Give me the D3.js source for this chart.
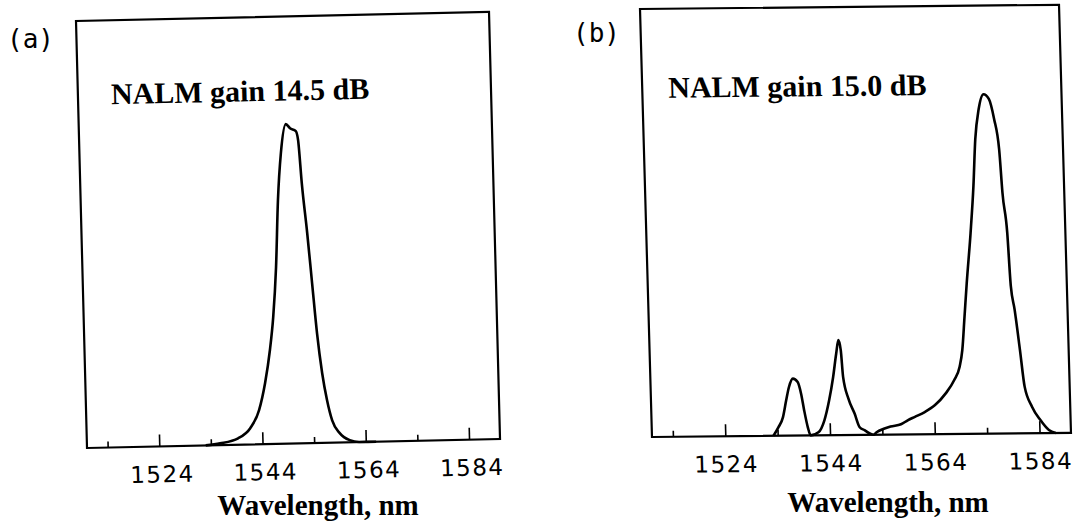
<!DOCTYPE html>
<html>
<head>
<meta charset="utf-8">
<script src="https://cdn.jsdelivr.net/npm/d3@7"></script>
<style>
  body { margin: 0; background: #fff; }
  svg { display: block; }
</style>
</head>
<body>
<svg></svg>
<script>
const width = 1074;
const height = 521;

// wavelength (nm) and relative power
const waveA = [1533, 1535.8, 1539.3, 1541.7, 1543.5, 1544.8, 1545.9, 1546.7, 1547.5, 1548.2, 1549.0,
  1550.1, 1550.9, 1552.0, 1552.4, 1552.9, 1553.7, 1554.4, 1555.1, 1555.9, 1556.7, 1557.6,
  1559.0, 1560.9, 1562.8, 1566];
const powerA = [0, 0.004, 0.015, 0.038, 0.080, 0.143, 0.220, 0.297, 0.414, 0.570, 0.680,
  0.748, 0.738, 0.731, 0.710, 0.609, 0.492, 0.374, 0.257, 0.163, 0.100, 0.052,
  0.022, 0.005, 0, 0];

const waveB = [1533.2, 1534.2, 1535.1, 1535.8, 1536.4, 1537.2, 1538.1, 1538.7, 1539.2, 1539.8,
  1540.3, 1541.8, 1543.0, 1544.0, 1544.9, 1545.6, 1546.1, 1546.5, 1546.8, 1547.7, 1548.8,
  1549.7, 1550.6, 1551.6, 1552.3, 1552.9, 1554.3, 1555.6, 1557.6, 1558.9, 1560.3, 1562.2,
  1564.2, 1566.3, 1568.0, 1569.1, 1569.7, 1570.3, 1570.9, 1571.9, 1572.7, 1573.3, 1574.1,
  1575.1, 1576.1, 1577.0, 1577.8, 1578.2, 1578.9, 1579.3, 1579.9, 1580.7, 1581.4, 1582.7,
  1584.2, 1585.8, 1587.1];
const powerB = [0, 0.020, 0.043, 0.082, 0.113, 0.133, 0.125, 0.097, 0.058, 0.019,
  0, 0.007, 0.035, 0.081, 0.136, 0.190, 0.222, 0.198, 0.136, 0.085, 0.050,
  0.018, 0.011, 0.003, 0, 0.006, 0.014, 0.019, 0.024, 0.033, 0.041, 0.052,
  0.068, 0.095, 0.126, 0.157, 0.196, 0.274, 0.352, 0.469, 0.579, 0.688, 0.758,
  0.793, 0.782, 0.735, 0.664, 0.563, 0.469, 0.344, 0.289, 0.195, 0.109, 0.062,
  0.031, 0.007, 0];

const majorTicks = [1524, 1544, 1564, 1584];
const minorTicks = [1514, 1534, 1554, 1574];
const panelLabels = ["(a)", "(b)"];
const titles = ["NALM gain 14.5 dB", "NALM gain 15.0 dB"];
const xLabel = "Wavelength, nm";

const svg = d3.select("svg")
  .attr("width", width)
  .attr("height", height);

svg.append("rect").attr("width", width).attr("height", height).attr("fill", "#fff");

// the scan is slightly skewed, so each panel sits in a sheared frame
const panels = [
  { x: 76, y: 21, w: 413, h: 427, kx: 0.0258, ky: -0.0218, wave: waveA, power: powerA,
    labelX: 7, labelY: 48, titleX: 33, titleY: 84, xlabX: 318, xlabY: 515, tickDx: 2 },
  { x: 640, y: 9, w: 419, h: 428, kx: 0.028, ky: -0.010, wave: waveB, power: powerB,
    labelX: 573, labelY: 42, titleX: 26, titleY: 89, xlabX: 888, xlabY: 512, tickDx: 0 }
];

panels.forEach((p, i) => {
  const g = svg.append("g")
    .attr("transform", `matrix(1,${p.ky},${p.kx},1,${p.x},${p.y})`);

  const x = d3.scaleLinear().domain([1510, 1590]).range([0, p.w]);
  const y = d3.scaleLinear().domain([0, 1]).range([p.h, 0]);

  g.append("rect")
    .attr("width", p.w)
    .attr("height", p.h)
    .attr("fill", "none")
    .attr("stroke", "#000")
    .attr("stroke-width", 2.2);

  // minor ticks, no labels
  const minor = g.append("g")
    .attr("transform", `translate(0,${p.h})`)
    .call(d3.axisBottom(x).tickValues(minorTicks).tickSize(-6).tickFormat(""));
  minor.select(".domain").remove();
  minor.selectAll("line").attr("stroke-width", 1.6);

  // major ticks with labels
  const major = g.append("g")
    .attr("transform", `translate(0,${p.h})`)
    .call(d3.axisBottom(x).tickValues(majorTicks).tickSize(-12).tickFormat(d3.format("d")));
  major.select(".domain").remove();
  major.selectAll("line").attr("stroke-width", 1.6);
  major.attr("font-family", "'DejaVu Sans', sans-serif").attr("font-size", 23);
  major.selectAll("text")
    .attr("y", 36)
    .attr("dy", 0)
    .attr("dx", p.tickDx)
    .attr("fill", "#000")
    .style("letter-spacing", "1.5px");

  const line = d3.line()
    .x((d, j) => x(p.wave[j]))
    .y(d => y(d))
    .curve(d3.curveMonotoneX);

  g.append("path")
    .datum(p.power)
    .attr("fill", "none")
    .attr("stroke", "#000")
    .attr("stroke-width", 2.6)
    .attr("stroke-linejoin", "round")
    .attr("d", line);

  g.append("text")
    .attr("x", p.titleX)
    .attr("y", p.titleY)
    .attr("font-family", "'Liberation Serif', 'Times New Roman', serif")
    .attr("font-weight", "bold")
    .attr("font-size", 30)
    .text(titles[i]);

  svg.append("text")
    .attr("x", p.labelX)
    .attr("y", p.labelY)
    .attr("font-family", "'DejaVu Sans Mono', monospace")
    .attr("font-size", 26)
    .text(panelLabels[i]);

  svg.append("text")
    .attr("x", p.xlabX)
    .attr("y", p.xlabY)
    .attr("text-anchor", "middle")
    .attr("font-family", "'Liberation Serif', 'Times New Roman', serif")
    .attr("font-weight", "bold")
    .attr("font-size", 29)
    .text(xLabel);
});
</script>
</body>
</html>
